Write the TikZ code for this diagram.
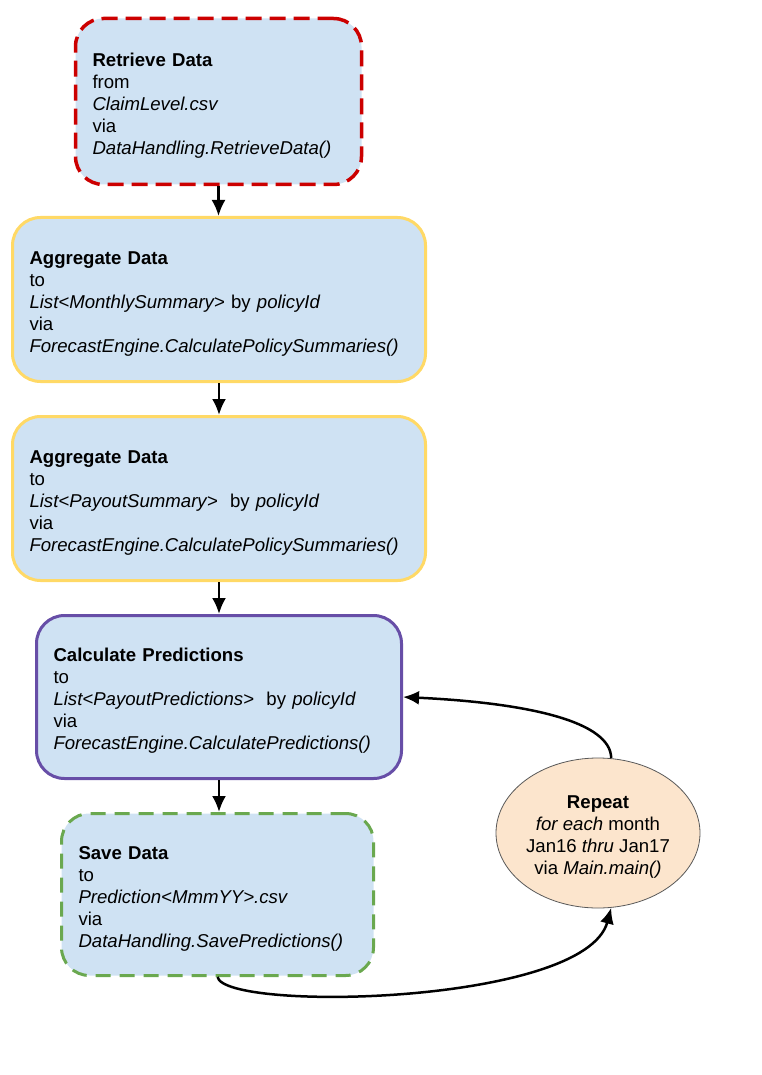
\documentclass[tikz,border=0pt]{standalone}
\usepackage{fontspec}
\setmainfont{Liberation Sans}
\usetikzlibrary{arrows.meta,shapes.geometric}
\definecolor{boxfill}{HTML}{CFE2F3}
\definecolor{redc}{HTML}{CC0000}
\definecolor{yelc}{HTML}{FFD966}
\definecolor{purc}{HTML}{674EA7}
\definecolor{grnc}{HTML}{6AA84F}
\definecolor{ellfill}{HTML}{FCE5CD}
\definecolor{ellline}{HTML}{595959}
\newcommand{\topgap}{\rule{0pt}{21pt}}
\tikzset{
  stepbox/.style={draw, fill=boxfill, rounded corners=28pt, align=left,
    inner xsep=17pt, inner ysep=0pt, font=\fontsize{18.6}{22}\selectfont},
  redbox/.style={stepbox, draw=redc, line width=3.5pt, dash pattern=on 16pt off 8pt},
  yelbox/.style={stepbox, draw=yelc, line width=3pt},
  purbox/.style={stepbox, draw=purc, line width=3pt},
  grnbox/.style={stepbox, draw=grnc, line width=3pt, dash pattern=on 15pt off 9pt},
  repell/.style={ellipse, draw=ellline, fill=ellfill, line width=0.8pt, align=center,
    minimum width=204pt, minimum height=150pt, inner sep=0pt,
    font=\fontsize{18.6}{22}\selectfont},
  conn/.style={line width=2.5pt, -{Latex[length=16pt,width=14pt]}}
}
\begin{document}
\begin{tikzpicture}[x=1pt,y=-1pt]
\useasboundingbox (0,0) rectangle (761,1075);
\node[redbox, minimum width=286pt, minimum height=166pt, text width=252pt] (retrieve) at (218.5,101.5)
 {\topgap\textbf{Retrieve Data}\\from\\\textit{ClaimLevel.csv}\\via\\\textit{DataHandling.RetrieveData()}};
\node[yelbox, minimum width=413pt, minimum height=164pt, text width=379pt] (agg1) at (219,299.5)
 {\topgap\textbf{Aggregate Data}\\to\\\textit{List<MonthlySummary>} by \textit{policyId}\\via\\\textit{ForecastEngine.CalculatePolicySummaries()}};
\node[yelbox, minimum width=413pt, minimum height=164pt, text width=379pt] (agg2) at (219,498.5)
 {\topgap\textbf{Aggregate Data}\\to\\\textit{List<PayoutSummary>}\ \ by \textit{policyId}\\via\\\textit{ForecastEngine.CalculatePolicySummaries()}};
\node[purbox, minimum width=365pt, minimum height=163pt, text width=331pt] (calc) at (219,697)
 {\topgap\textbf{Calculate Predictions}\\to\\\textit{List<PayoutPredictions>}\ \ by \textit{policyId}\\via\\\textit{ForecastEngine.CalculatePredictions()}};
\node[grnbox, minimum width=312pt, minimum height=162pt, text width=278pt] (save) at (217.5,894.5)
 {\topgap\textbf{Save Data}\\to\\\textit{Prediction<MmmYY>.csv}\\via\\\textit{DataHandling.SavePredictions()}};
\node[repell] (rep) at (598,833)
 {\topgap\textbf{Repeat}\\\textit{for each} month\\Jan16 \textit{thru} Jan17\\via \textit{Main.main()}};
\draw[conn] (retrieve.south) -- (retrieve.south |- agg1.north);
\draw[conn] (agg1.south) -- (agg2.north);
\draw[conn] (agg2.south) -- (calc.north);
\draw[conn] (calc.south) -- (calc.south |- save.north);
\draw[conn] (rep.80) .. controls (611,722) and (530,703) .. (calc.east);
\draw[conn] (save.south) .. controls (225,1012) and (585,1005) .. (rep.-80);
\end{tikzpicture}
\end{document}
